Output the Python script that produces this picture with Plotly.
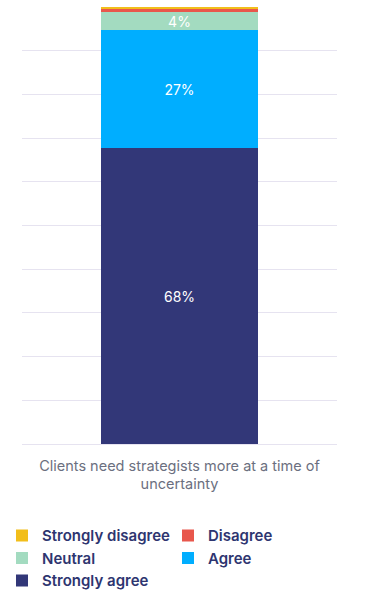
import plotly.graph_objects as go

category = ["Clients need strategists more at a time of<br>uncertainty"]
series_names = ["Strongly agree", "Agree", "Neutral", "Disagree", "Strongly disagree"]
series_values = [67.7, 27.0, 4.1, 0.8, 0.4]
series_labels = ["68%", "27%", "4%", "", ""]
colors = ["#323778", "#00AEFF", "#A3DBC0", "#E8574C", "#F2BE1A"]
ranks = [5, 4, 3, 2, 1]

fig = go.Figure()
for name, val, lab, col, rk in zip(series_names, series_values, series_labels, colors, ranks):
    fig.add_trace(go.Bar(
        x=category, y=[val], name=name, marker=dict(color=col, line=dict(width=0)),
        text=[lab], textposition="inside", insidetextanchor="middle",
        textfont=dict(color="white", size=14, family="Inter"),
        legendrank=rk, hoverinfo="name+y",
    ))

fig.update_layout(
    barmode="stack", bargap=0.5,
    width=372, height=605,
    margin=dict(l=22, r=35, t=7, b=161, autoexpand=False),
    plot_bgcolor="white", paper_bgcolor="white",
    font=dict(family="Inter", size=14),
    uniformtext=dict(mode="show", minsize=14),
    xaxis=dict(showgrid=False, ticks="", tickfont=dict(color="#6B6F80", size=14.5),
               showline=False, ticklabelstandoff=11),
    yaxis=dict(range=[0, 100], dtick=10, showticklabels=False, gridcolor="#E6E3F0",
               gridwidth=1, zeroline=True, zerolinecolor="#E6E3F0", zerolinewidth=1),
    legend=dict(orientation="h", x=-0.0635, xanchor="left", y=-0.172, yanchor="top",
                entrywidth=121, entrywidthmode="pixels", traceorder="normal",
                font=dict(color="#2E3570", size=15, family="Inter", weight=600),
                itemclick=False, itemdoubleclick=False, tracegroupgap=0),
)
fig.write_html("out.html", config={"displayModeBar": False},
               post_script="document.body.style.margin='0px';")
